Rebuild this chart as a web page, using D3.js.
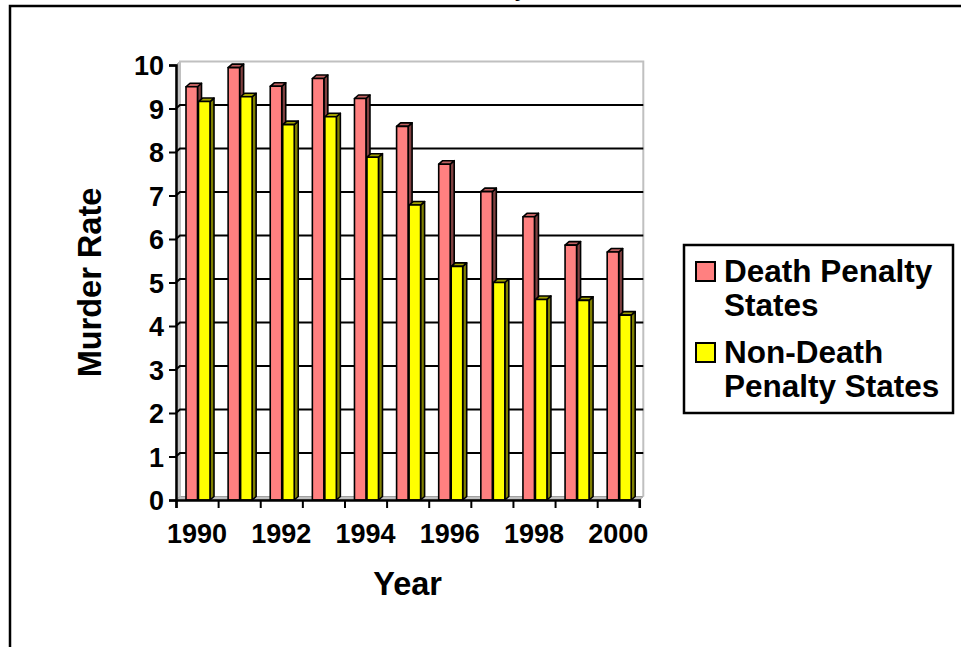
<!DOCTYPE html>
<html><head><meta charset="utf-8">
<script src="https://cdn.jsdelivr.net/npm/d3@7"></script>
<style>
body{margin:0;background:#fff;}
svg{display:block;font-family:Arial,"Liberation Sans",sans-serif;font-weight:bold;}
</style></head>
<body>
<svg id="c" width="961" height="647"></svg>
<script>
const years = [1990,1991,1992,1993,1994,1995,1996,1997,1998,1999,2000];
const seriesNames = ["Death Penalty States","Non-Death Penalty States"];
const deathPenalty = [9.50,9.94,9.51,9.69,9.23,8.59,7.72,7.09,6.51,5.86,5.70];
const nonDeathPenalty = [9.16,9.27,8.63,8.81,7.88,6.78,5.37,5.00,4.61,4.59,4.25];
const yTicks = [0,1,2,3,4,5,6,7,8,9,10];
const xLabelYears = [1990,1992,1994,1996,1998,2000];
const legendLines = [["Death Penalty","States"],["Non-Death","Penalty States"]];
const titleFragments = [{t:"y",x:515},{t:",",x:620}];

const svg = d3.select("#c");
// frame
svg.append("rect").attr("x",10).attr("y",6).attr("width",1000).attr("height",700)
  .attr("fill","none").attr("stroke","#000").attr("stroke-width",2.5);
// title remnants (cut off above view, as in the reference)
svg.selectAll("text.title").data(titleFragments).join("text").attr("class","title")
  .attr("x",d=>d.x).attr("y",-4).attr("font-family","'Liberation Serif',serif").attr("font-size",26)
  .text(d=>d.t);

const x0=176,x1=639.3,yb=500,yt=65;
const dx=4, dy=-3.5;
const x = d3.scaleBand().domain(years).range([x0,x1]).padding(0);
const xi = d3.scaleLinear().domain([0,years.length]).range([x0,x1]);
const xs = d3.scaleBand().domain(seriesNames).range([10,34]).paddingInner(0.08);
const y = d3.scaleLinear().domain([0,10]).range([yb,yt]);

const g = svg.append("g");
const wallGray="#c0c0c0";
g.append("path").attr("d",`M${x0},${yb}L${x0},${yt}L${x0+dx},${yt+dy}L${x0+dx},${yb+dy}Z`)
  .attr("fill",wallGray).attr("stroke","#a0a0a0").attr("stroke-width",1);
g.append("path").attr("d",`M${x0},${yb}L${x1},${yb}L${x1+dx},${yb+dy}L${x0+dx},${yb+dy}Z`)
  .attr("fill",wallGray).attr("stroke","#a0a0a0").attr("stroke-width",1);
g.append("path").attr("d",`M${x0+dx},${yb+dy}L${x0+dx},${yt+dy}L${x1+dx},${yt+dy}L${x1+dx},${yb+dy}`)
  .attr("fill","none").attr("stroke","#c0c0c0").attr("stroke-width",2);
g.selectAll("path.grid").data(yTicks.filter(v=>v>0&&v<10)).join("path").attr("class","grid")
  .attr("d",v=>`M${x0},${y(v)}L${x0+dx},${y(v)+dy}L${x1+dx},${y(v)+dy}`)
  .attr("fill","none").attr("stroke","#000").attr("stroke-width",2);

const series = [
  {name:seriesNames[0],vals:deathPenalty,front:"#ff8080",top:"#c06060",side:"#804040"},
  {name:seriesNames[1],vals:nonDeathPenalty,front:"#ffff00",top:"#a0a000",side:"#808000"}
];
const bars=[];
years.forEach((yr,i)=>series.forEach(s=>bars.push({yr,v:s.vals[i],s})));
const bw = xs.bandwidth();
const bg = g.selectAll("g.bar").data(bars).join("g").attr("class","bar");
bg.each(function(d){
  const el=d3.select(this);
  const bx = x(d.yr)+xs(d.s.name), ty=y(d.v), by=y(0);
  el.append("path").attr("d",`M${bx+bw},${by}L${bx+bw},${ty}L${bx+bw+dx},${ty+dy}L${bx+bw+dx},${by+dy}Z`)
    .attr("fill",d.s.side);
  el.append("path").attr("d",`M${bx},${ty}L${bx+dx},${ty+dy}L${bx+bw+dx},${ty+dy}L${bx+bw},${ty}Z`)
    .attr("fill",d.s.top);
  el.append("rect").attr("x",bx).attr("y",ty).attr("width",bw).attr("height",by-ty).attr("fill",d.s.front);
  el.selectAll("*").attr("stroke","#000").attr("stroke-width",1.6).attr("stroke-linejoin","round");
});

const fs=27;
const yAxis = g.append("g").attr("transform",`translate(${x0},0)`)
  .call(d3.axisLeft(y).tickValues(yTicks).tickSize(7).tickPadding(5).tickFormat(d3.format("d")));
yAxis.select(".domain").attr("stroke","#000").attr("stroke-width",2.5);
yAxis.selectAll(".tick line").attr("stroke","#000").attr("stroke-width",2);
yAxis.selectAll("text").attr("font-size",fs).attr("font-weight","bold").attr("font-family","Arial,'Liberation Sans'").attr("fill","#000").attr("dy","0.36em");

const xTickAxis = g.append("g").attr("transform",`translate(0,${yb})`)
  .call(d3.axisBottom(xi).tickValues(d3.range(years.length+1)).tickSize(8).tickFormat(""));
xTickAxis.select(".domain").attr("stroke","#000").attr("stroke-width",2.5);
xTickAxis.selectAll(".tick line").attr("stroke","#000").attr("stroke-width",2);

const xLab = g.append("g").attr("transform",`translate(0,${yb})`)
  .call(d3.axisBottom(x).tickSize(0).tickPadding(24).tickFormat(d=>xLabelYears.includes(d)?String(d):""));
xLab.select(".domain").remove();
xLab.selectAll("text").attr("font-size",fs).attr("font-weight","bold").attr("font-family","Arial,'Liberation Sans'").attr("fill","#000");

svg.append("text").attr("x",(x0+x1)/2).attr("y",595).attr("text-anchor","middle")
  .attr("font-size",32.5).text("Year");
svg.append("text").attr("transform",`translate(101,${(yt+yb)/2}) rotate(-90)`).attr("text-anchor","middle")
  .attr("font-size",32.5).text("Murder Rate");

const lg = svg.append("g");
lg.append("rect").attr("x",684).attr("y",245).attr("width",269).attr("height",168)
  .attr("fill","#fff").attr("stroke","#000").attr("stroke-width",2.5);
const li = lg.selectAll("g.li").data(series).join("g").attr("class","li")
  .attr("transform",(d,i)=>`translate(0,${i*81})`);
li.append("rect").attr("x",696).attr("y",262).attr("width",19).attr("height",19)
  .attr("fill",d=>d.front).attr("stroke","#000").attr("stroke-width",2);
li.each(function(d,i){
  const t=d3.select(this).append("text").attr("x",724).attr("y",281.5).attr("font-size",31.5);
  legendLines[i].forEach((ln,k)=>t.append("tspan").attr("x",724).attr("dy",k?34.5:0).text(ln));
});
</script>
</body></html>
